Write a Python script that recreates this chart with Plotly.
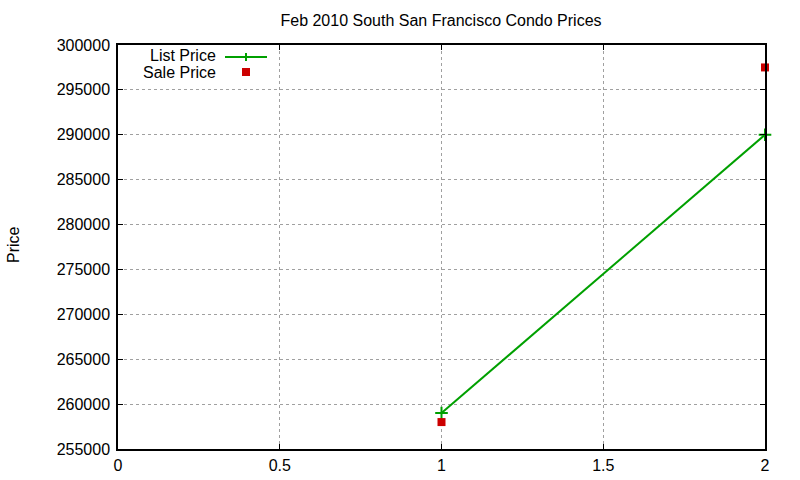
import plotly.graph_objects as go

# valores
x_vals = [1, 2]
list_price = [259000, 290000]
sale_price = [258000, 297500]

x_ticks = [0, 0.5, 1, 1.5, 2]
y_ticks = list(range(255000, 300001, 5000))

green = '#00a000'
red = '#cc0000'
font = 'Liberation Sans, Arial, sans-serif'

W, H = 800, 480
L, T = 118, 45
PW, PH = 647, 404


def px(xs):
    return (xs - L) / PW


def py(ys):
    return (T + PH - ys) / PH


fig = go.Figure()
fig.add_trace(go.Scatter(x=x_vals, y=list_price, mode='lines+markers', name='List Price',
                         line=dict(color=green, width=2), cliponaxis=False,
                         marker=dict(symbol='cross-thin', size=9, line=dict(color=green, width=2))))
fig.add_trace(go.Scatter(x=x_vals, y=sale_price, mode='markers', name='Sale Price',
                         marker=dict(symbol='square', size=8, color=red), cliponaxis=False))

# leyenda estilo gnuplot (texto a la izquierda, simbolo a la derecha)
for txt, yy in [('List Price', 54.5), ('Sale Price', 72.5)]:
    fig.add_annotation(xref='paper', yref='paper', x=px(217), y=py(yy),
                       text=txt, showarrow=False, xanchor='right', yanchor='middle',
                       height=14, borderpad=0, valign='middle',
                       font=dict(family=font, size=16, color='black'))
fig.add_shape(type='line', xref='paper', yref='paper', x0=px(225), x1=px(267),
              y0=py(57), y1=py(57), line=dict(color=green, width=2))
fig.add_shape(type='line', xref='paper', yref='paper', x0=px(246), x1=px(246),
              y0=py(53), y1=py(61), line=dict(color=green, width=2))
fig.add_shape(type='rect', xref='paper', yref='paper', x0=px(242), x1=px(250),
              y0=py(68), y1=py(76), fillcolor=red, line=dict(width=0))

# titulo del eje y
fig.add_annotation(xref='paper', yref='paper', x=px(13), y=py(245),
                   text='Price', showarrow=False, textangle=-90,
                   xanchor='center', yanchor='middle',
                   font=dict(family=font, size=16, color='black'))

fig.update_layout(
    width=W, height=H,
    margin=dict(l=L, r=W - L - PW, t=T, b=H - T - PH, autoexpand=False),
    paper_bgcolor='white', plot_bgcolor='white',
    showlegend=False,
    font=dict(family=font, size=16, color='black'),
    title=dict(text='Feb 2010 South San Francisco Condo Prices', x=441 / W, xanchor='center',
               y=1 - 20 / H, yanchor='middle', font=dict(size=16)),
)
fig.update_xaxes(range=[0, 2], tickvals=x_ticks, ticktext=[str(t) for t in x_ticks],
                 showgrid=True, gridcolor='#a0a0a0', griddash='dot', gridwidth=1,
                 ticks='inside', ticklen=5, tickcolor='black', mirror='ticks',
                 showline=True, linecolor='black', linewidth=1.5, zeroline=False,
                 ticklabelstandoff=1, automargin=False)
fig.update_yaxes(range=[255000, 300000], tickvals=y_ticks, ticktext=[str(t) for t in y_ticks],
                 showgrid=True, gridcolor='#a0a0a0', griddash='dot', gridwidth=1,
                 ticks='inside', ticklen=5, tickcolor='black', mirror='ticks',
                 showline=True, linecolor='black', linewidth=1.5, zeroline=False,
                 ticklabelstandoff=3, automargin=False)

# quitar el margen del body para que la figura empiece en 0,0
fig.write_html("out.html", config={'displayModeBar': False},
               post_script="document.body.style.margin='0';")
